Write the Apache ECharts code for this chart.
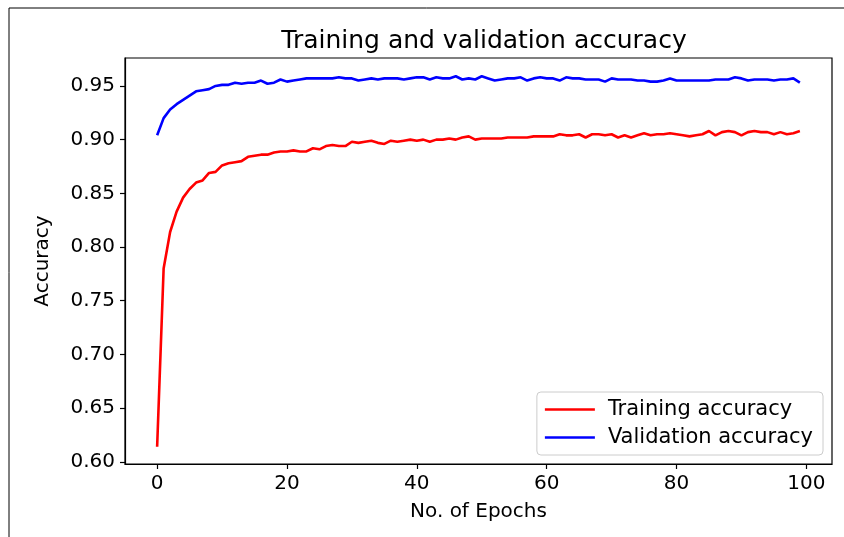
<!DOCTYPE html>
<html>
<head>
<meta charset="utf-8">
<script src="https://cdn.jsdelivr.net/npm/echarts@6/dist/echarts.min.js"></script>
<style>
html,body{margin:0;padding:0;background:#fff;}
#chart{width:844px;height:537px;}
</style>
</head>
<body>
<div id="chart"></div>
<script>
// ---- data ----
const epochs = Array.from({length: 100}, (_, i) => i);
const trainingAccuracy = [
  0.614, 0.780, 0.814, 0.833, 0.846, 0.854, 0.860, 0.862, 0.869, 0.870,
  0.876, 0.878, 0.879, 0.880, 0.884, 0.885, 0.886, 0.886, 0.888, 0.889,
  0.889, 0.890, 0.889, 0.889, 0.892, 0.891, 0.894, 0.895, 0.894, 0.894,
  0.898, 0.897, 0.898, 0.899, 0.897, 0.896, 0.899, 0.898, 0.899, 0.900,
  0.899, 0.900, 0.898, 0.900, 0.900, 0.901, 0.900, 0.902, 0.903, 0.900,
  0.901, 0.901, 0.901, 0.901, 0.902, 0.902, 0.902, 0.902, 0.903, 0.903,
  0.903, 0.903, 0.905, 0.904, 0.904, 0.905, 0.902, 0.905, 0.905, 0.904,
  0.905, 0.902, 0.904, 0.902, 0.904, 0.906, 0.904, 0.905, 0.905, 0.906,
  0.905, 0.904, 0.903, 0.904, 0.905, 0.908, 0.904, 0.907, 0.908, 0.907,
  0.904, 0.907, 0.908, 0.907, 0.907, 0.905, 0.907, 0.905, 0.906, 0.908
];
const validationAccuracy = [
  0.904, 0.920, 0.928, 0.933, 0.937, 0.941, 0.945, 0.946, 0.947, 0.950,
  0.951, 0.951, 0.953, 0.952, 0.953, 0.953, 0.955, 0.952, 0.953, 0.956,
  0.954, 0.955, 0.956, 0.957, 0.957, 0.957, 0.957, 0.957, 0.958, 0.957,
  0.957, 0.955, 0.956, 0.957, 0.956, 0.957, 0.957, 0.957, 0.956, 0.957,
  0.958, 0.958, 0.956, 0.958, 0.957, 0.957, 0.959, 0.956, 0.957, 0.956,
  0.959, 0.957, 0.955, 0.956, 0.957, 0.957, 0.958, 0.955, 0.957, 0.958,
  0.957, 0.957, 0.955, 0.958, 0.957, 0.957, 0.956, 0.956, 0.956, 0.954,
  0.957, 0.956, 0.956, 0.956, 0.955, 0.955, 0.954, 0.954, 0.955, 0.957,
  0.955, 0.955, 0.955, 0.955, 0.955, 0.955, 0.956, 0.956, 0.956, 0.958,
  0.957, 0.955, 0.956, 0.956, 0.956, 0.955, 0.956, 0.956, 0.957, 0.953
];
const xTicks = [0, 20, 40, 60, 80, 100];
const yTicks = [0.60, 0.65, 0.70, 0.75, 0.80, 0.85, 0.90, 0.95];
const seriesNames = ['Training accuracy', 'Validation accuracy'];
const titleText = 'Training and validation accuracy';
const xName = 'No. of Epochs';
const yName = 'Accuracy';

// ---- chart ----
const FONT = 'DejaVu Sans';
const chart = echarts.init(document.getElementById('chart'), null, {renderer: 'canvas'});
const toPairs = (vals) => epochs.map((e, i) => [e, vals[i]]);
const axisLineStyle = {show: true, onZero: false, lineStyle: {color: '#000', width: 1.2}};

chart.setOption({
  animation: false,
  backgroundColor: '#ffffff',
  textStyle: {fontFamily: FONT, color: '#000'},
  title: {
    text: titleText,
    left: 479, top: 24, textAlign: 'center',
    textStyle: {fontFamily: FONT, fontSize: 25, fontWeight: 'normal', color: '#000'}
  },
  graphic: [{
    type: 'polyline',
    shape: {points: [[9, 537], [9, 8], [844, 8]]},
    style: {stroke: '#000', lineWidth: 1, fill: null},
    silent: true
  }],
  grid: {
    left: 125, right: 12, top: 58, bottom: 73,
    show: true, borderColor: '#000', borderWidth: 1.2, backgroundColor: 'transparent'
  },
  legend: {
    orient: 'vertical',
    right: 21, bottom: 82,
    data: seriesNames,
    icon: 'rect',
    itemWidth: 50, itemHeight: 2.5,
    itemGap: 7,
    padding: [7, 10, 7, 8],
    backgroundColor: 'rgba(255,255,255,0.8)',
    borderColor: '#cccccc', borderWidth: 1, borderRadius: 4,
    textStyle: {fontFamily: FONT, fontSize: 21, color: '#000', padding: [0, 0, 0, 8]}
  },
  xAxis: {
    type: 'value',
    min: -4.95, max: 103.95,
    name: xName, nameLocation: 'middle', nameGap: 38,
    nameTextStyle: {fontFamily: FONT, fontSize: 20, color: '#000'},
    axisLine: axisLineStyle,
    splitLine: {show: false},
    axisTick: {show: true, inside: false, length: 5, lineStyle: {color: '#000', width: 1.2}, customValues: xTicks},
    axisLabel: {show: true, fontFamily: FONT, fontSize: 20, color: '#000', margin: 10, customValues: xTicks,
      formatter: (v) => String(Math.round(v))}
  },
  yAxis: {
    type: 'value',
    min: 0.598, max: 0.976,
    name: yName, nameLocation: 'middle', nameGap: 72, nameRotate: 90,
    nameTextStyle: {fontFamily: FONT, fontSize: 20, color: '#000'},
    axisLine: axisLineStyle,
    splitLine: {show: false},
    axisTick: {show: true, inside: false, length: 5, lineStyle: {color: '#000', width: 1.2}, customValues: yTicks},
    axisLabel: {show: true, fontFamily: FONT, fontSize: 20, color: '#000', margin: 10, customValues: yTicks,
      formatter: (v) => v.toFixed(2)}
  },
  series: [
    {
      name: seriesNames[0], type: 'line', data: toPairs(trainingAccuracy),
      showSymbol: false, symbol: 'none', color: '#ff0000',
      lineStyle: {color: '#ff0000', width: 2.6}
    },
    {
      name: seriesNames[1], type: 'line', data: toPairs(validationAccuracy),
      showSymbol: false, symbol: 'none', color: '#0000ff',
      lineStyle: {color: '#0000ff', width: 2.6}
    }
  ]
});
</script>
</body>
</html>
